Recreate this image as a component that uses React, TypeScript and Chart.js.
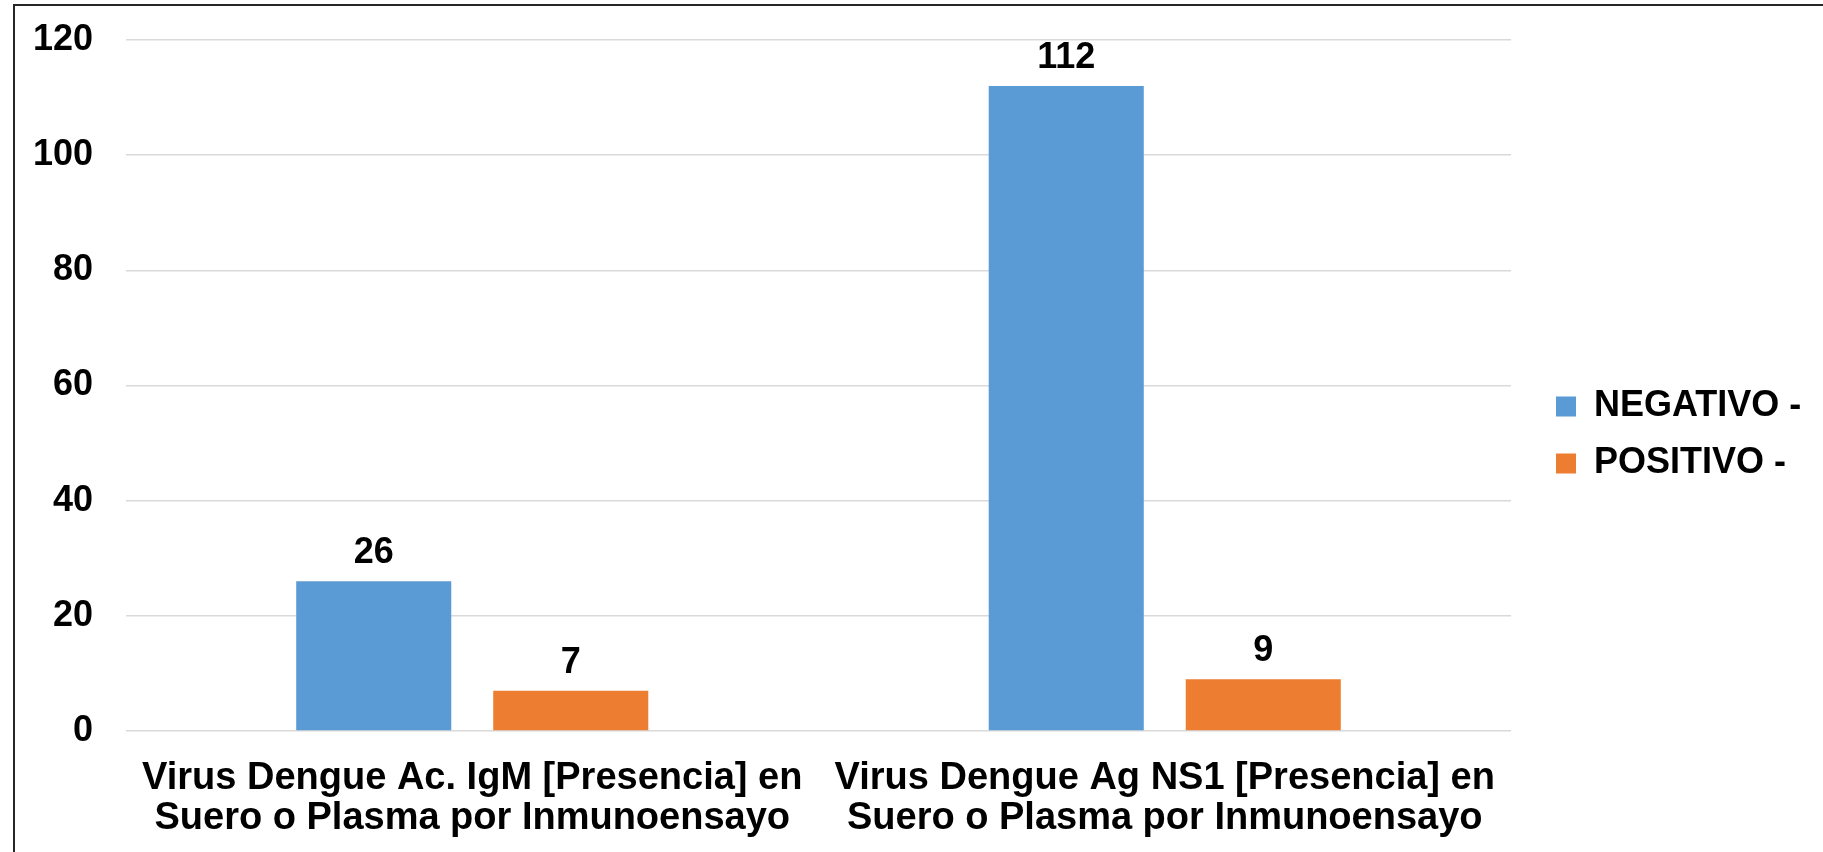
import React, { useEffect, useRef } from 'react';
import { Chart, registerables } from 'chart.js';

Chart.register(...registerables);

const categories: string[][] = [
  ['Virus Dengue Ac. IgM [Presencia] en', 'Suero o Plasma por Inmunoensayo'],
  ['Virus Dengue Ag NS1 [Presencia] en', 'Suero o Plasma por Inmunoensayo'],
];
const seriesNames = ['NEGATIVO -', 'POSITIVO -'];
const negativoValues = [26, 112];
const positivoValues = [7, 9];
const yTickValues = [0, 20, 40, 60, 80, 100, 120];

const FONT = "'Liberation Sans', Arial, Helvetica, sans-serif";
const BLUE = '#5B9BD5';
const ORANGE = '#ED7D31';
const W = 1823;
const H = 852;

const dataLabelPlugin = {
  id: 'dataLabels',
  afterDatasetsDraw(chart: any) {
    const ctx = chart.ctx;
    ctx.save();
    ctx.font = `bold 36px ${FONT}`;
    ctx.fillStyle = '#000';
    ctx.textAlign = 'center';
    ctx.textBaseline = 'middle';
    chart.data.datasets.forEach((ds: any, i: number) => {
      const meta = chart.getDatasetMeta(i);
      meta.data.forEach((el: any, j: number) => {
        ctx.fillText(String(ds.data[j]), el.x, el.y - 28);
      });
    });
    ctx.restore();
  },
};

const framePlugin = {
  id: 'frame',
  beforeDraw(chart: any) {
    const ctx = chart.ctx;
    ctx.save();
    ctx.fillStyle = '#fff';
    ctx.fillRect(0, 0, chart.width, chart.height);
    ctx.restore();
  },
  afterDraw(chart: any) {
    const ctx = chart.ctx;
    ctx.save();
    ctx.strokeStyle = '#262626';
    ctx.lineWidth = 2;
    ctx.strokeRect(14, 5, 4000, 4000);
    ctx.restore();
  },
};

export default function App() {
  const ref = useRef<HTMLCanvasElement | null>(null);

  useEffect(() => {
    document.body.style.margin = '0';
    const canvas = ref.current;
    if (!canvas) return;

    const legendFontSize = 36;
    const legendPadding = 21;
    const legendBox = 20;
    const mctx = document.createElement('canvas').getContext('2d')!;
    mctx.font = `bold ${legendFontSize}px ${FONT}`;
    const tw = Math.max(...seriesNames.map((s) => mctx.measureText(s).width));
    const legendWidth = legendPadding + legendBox + legendFontSize / 2 + tw + 10;
    const padRight = Math.max(0, W - 1535 - legendWidth);

    const chart = new Chart(canvas, {
      type: 'bar',
      data: {
        labels: categories,
        datasets: [
          {
            label: seriesNames[0],
            data: negativoValues,
            backgroundColor: BLUE,
            borderWidth: 0,
            categoryPercentage: 0.569,
            barPercentage: 0.787,
          },
          {
            label: seriesNames[1],
            data: positivoValues,
            backgroundColor: ORANGE,
            borderWidth: 0,
            categoryPercentage: 0.569,
            barPercentage: 0.787,
          },
        ],
      },
      options: {
        responsive: false,
        animation: false,
        devicePixelRatio: 1,
        layout: { padding: { left: 0, top: 18, right: padRight, bottom: 0 } },
        plugins: {
          tooltip: { enabled: false },
          legend: {
            display: true,
            position: 'right',
            align: 'center',
            labels: {
              boxWidth: legendBox,
              boxHeight: legendBox,
              padding: legendPadding,
              color: '#000',
              font: { family: FONT, size: legendFontSize, weight: 'bold' },
            },
          },
        },
        scales: {
          x: {
            type: 'category',
            grid: { display: false, drawTicks: false },
            border: { display: false },
            ticks: {
              color: '#000',
              padding: 27,
              maxRotation: 0,
              autoSkip: false,
              font: { family: FONT, size: 38, weight: 'bold', lineHeight: 1.066 },
            },
            afterFit: (s: any) => {
              s.height = 121;
              s.paddingLeft = 0;
              s.paddingRight = 0;
            },
          },
          y: {
            type: 'linear',
            position: 'left',
            min: yTickValues[0],
            max: yTickValues[yTickValues.length - 1],
            grid: { color: '#D9D9D9', lineWidth: 1.5, drawTicks: false },
            border: { display: false },
            ticks: {
              stepSize: yTickValues[1] - yTickValues[0],
              color: '#000',
              padding: 33,
              font: { family: FONT, size: 36, weight: 'bold' },
            },
            afterFit: (s: any) => {
              s.width = 126;
              s.paddingTop = 40;
              s.paddingBottom = 0;
            },
          },
          gap: {
            type: 'linear',
            position: 'right',
            display: true,
            grid: { display: false, drawTicks: false },
            border: { display: false },
            ticks: { display: false },
            afterFit: (s: any) => {
              s.width = 24;
              s.paddingTop = 0;
              s.paddingBottom = 0;
            },
          },
        },
      },
      plugins: [framePlugin, dataLabelPlugin],
    } as any);

    return () => chart.destroy();
  }, []);

  return (
    <div style={{ width: W, height: H, position: 'relative', overflow: 'hidden' }}>
      <canvas ref={ref} width={W} height={H} style={{ display: 'block' }} />
    </div>
  );
}
